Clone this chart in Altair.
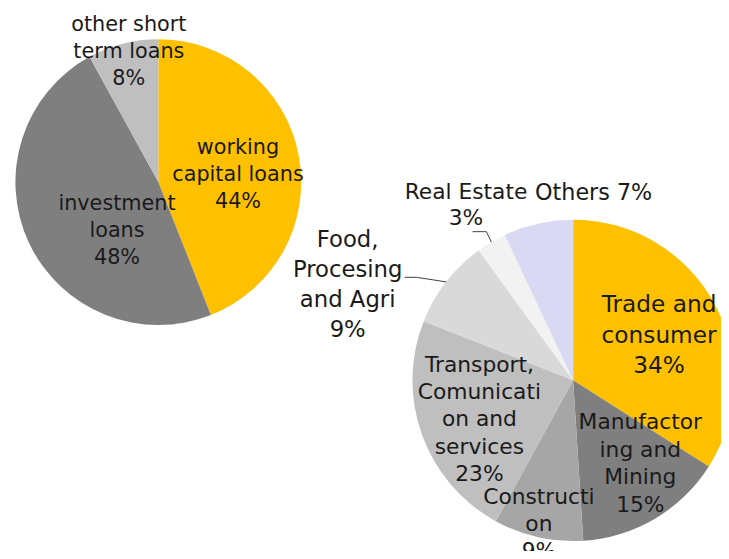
import altair as alt
import pandas as pd
import numpy as np

# ---- data ----
loan_types = ["working capital loans", "investment loans", "other short term loans"]
loan_values = [44, 48, 8]
loan_labels = [["working", "capital loans", "44%"],
               ["investment", "loans", "48%"],
               ["other short", "term loans", "8%"]]
loan_colors = ["#FFC000", "#7F7F7F", "#BFBFBF"]

sectors = ["Trade and consumer", "Manufactoring and Mining", "Construction",
           "Transport, Comunication and services", "Food, Procesing and Agri",
           "Real Estate", "Others"]
sector_values = [34, 15, 9, 23, 9, 3, 7]
sector_labels = [["Trade and", "consumer", "34%"],
                 ["Manufactor", "ing and", "Mining", "15%"],
                 ["Constructi", "on", "9%"],
                 ["Transport,", "Comunicati", "on and", "services", "23%"],
                 ["Food,", "Procesing", "and Agri", "9%"],
                 ["Real Estate", "3%"],
                 ["Others 7%"]]
sector_colors = ["#FFC000", "#7F7F7F", "#A6A6A6", "#BFBFBF", "#D9D9D9", "#F2F2F2", "#D9D9F3"]

# ---- layout / style (not data) ----
W, H = 721, 543
L_CX, L_CY, L_R = 152, 173, 144.5
R_CX, R_CY, R_R = 571.5, 373.5, 162.5
FONT = "DejaVu Sans"
TXT = "#1a1a1a"

# label placement: radius along slice mid-angle, then pixel nudge, font size, line height
loan_place = {
    "working capital loans": (80, 2, 8, 21, 27.5),
    "investment loans": (55, 8, 26, 21, 27.5),
    "other short term loans": (136, 4, 0, 21, 27.5),
}
sector_place = {
    "Trade and consumer": (98, 1, 2, 23.5, 31),
    "Manufactoring and Mining": (100, 17, -2, 22, 27.7),
    "Construction": (145, -3, 4, 22, 27.5),
    "Transport, Comunication and services": (105, 4, 4, 22, 27.7),
    "Food, Procesing and Agri": (200, -70, 26, 23, 30.5),
    "Real Estate": (207, -3, 1, 22, 27),
    "Others": (194, 63, 0, 22.5, 27),
}
# leader lines: offsets (elbow, end) from the slice edge point at mid-angle
leaders = {
    "Food, Procesing and Agri": [(-30, -4.6), (-42, -4.6)],
    "Real Estate": [(-5, -10.5), (-19, -10.5)],
}


def make_df(cats, vals, labels):
    df = pd.DataFrame({"cat": cats, "value": vals, "label": labels})
    df["idx"] = range(len(df))
    cum = np.cumsum(vals)
    df["mid"] = cum - np.array(vals) / 2.0
    return df


ldf = make_df(loan_types, loan_values, loan_labels)
rdf = make_df(sectors, sector_values, sector_labels)

all_cats = loan_types + sectors
all_cols = loan_colors + sector_colors
color_scale = alt.Scale(domain=all_cats, range=all_cols)


def pie(df, cx, cy, r):
    return alt.Chart(df).mark_arc(outerRadius=r, x=cx, y=cy, stroke=None).encode(
        theta=alt.Theta("value:Q", stack=True),
        color=alt.Color("cat:N", scale=color_scale, legend=None),
        order=alt.Order("idx:Q"),
    )


def labels(df, cx, cy, place):
    layers = []
    for cat, (rad, dx, dy, fs, lh) in place.items():
        sub = df[df["cat"] == cat]
        n_lines = len(sub.iloc[0]["label"])
        # center the multi-line block vertically on the anchor
        dy_c = dy - (n_lines - 1) * lh / 2.0
        layers.append(
            alt.Chart(sub).mark_text(
                x=cx, y=cy, radius=rad, dx=dx, dy=dy_c, font=FONT, fontSize=fs,
                lineHeight=lh, color=TXT, align="center", baseline="middle",
            ).encode(
                theta=alt.Theta("mid:Q", scale=alt.Scale(domain=[0, 100]), stack=None),
                text="label",
            )
        )
    return layers


# leader line points computed from slice mid-angles
pts = []
for cat, offs in leaders.items():
    row = rdf[rdf["cat"] == cat].iloc[0]
    ang = row["mid"] / 100.0 * 2 * np.pi
    ex = R_CX + R_R * np.sin(ang)
    ey = R_CY - R_R * np.cos(ang)
    pts.append({"cat": cat, "k": 0, "px": ex, "py": ey})
    for k, (ox, oy) in enumerate(offs, start=1):
        pts.append({"cat": cat, "k": k, "px": ex + ox, "py": ey + oy})
lead_df = pd.DataFrame(pts)

lead = alt.Chart(lead_df).mark_line(color="#404040", strokeWidth=1).encode(
    x=alt.X("px:Q", scale=None, axis=None),
    y=alt.Y("py:Q", scale=None, axis=None),
    detail="cat:N",
    order="k:Q",
)

layers = [pie(ldf, L_CX, L_CY, L_R), pie(rdf, R_CX, R_CY, R_R), lead]
layers += labels(ldf, L_CX, L_CY, loan_place)
layers += labels(rdf, R_CX, R_CY, sector_place)

chart = alt.layer(*layers).resolve_scale(theta="independent").properties(
    width=W, height=H, padding=0, autosize=alt.AutoSizeParams(type="none"),
    background="white",
).configure_view(stroke=None)

chart.save("out.html", embed_options={"renderer": "svg", "actions": False})
